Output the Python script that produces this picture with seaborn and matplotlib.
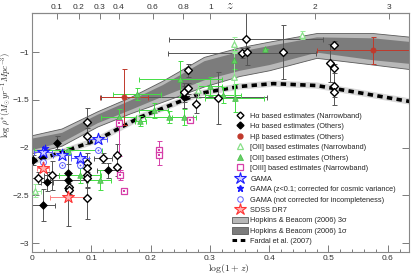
import numpy as np
import pandas as pd
import seaborn as sns
import matplotlib.pyplot as plt
from matplotlib.lines import Line2D
from matplotlib.patches import Patch
from matplotlib.ticker import MultipleLocator

# x = log(1+z), y = log rho*

# H-alpha, narrowband (open diamonds)
ha_nb_x = [0.010, 0.033, 0.063, 0.063, 0.093, 0.093, 0.093, 0.093, 0.093, 0.093, 0.093, 0.120, 0.143, 0.143,
           0.264, 0.256, 0.264, 0.276, 0.313, 0.354, 0.361, 0.363, 0.424, 0.510, 0.503, 0.510, 0.510, 0.510]
ha_nb_y = [-2.32, -2.29, -2.41, -2.44, -1.73, -1.88, -2.16, -2.21, -2.29, -2.32, -2.53, -2.11, -2.08, -2.20,
           -1.19, -1.42, -1.38, -1.54, -1.48, -1.01, -0.86, -1.00, -1.00, -0.93, -1.11, -1.17, -1.36, -1.42]
ha_nb_xerr = [0.010, 0.012, 0, 0, 0, 0, 0, 0, 0, 0, 0, 0.015, 0, 0,
              0, 0, 0, 0, 0, 0.125, 0.13, 0, 0, 0, 0, 0, 0, 0]
ha_nb_ylo = [0.06, 0.15, 0.06, 0.05, 0.14, 0.08, 0.10, 0.10, 0.12, 0.10, 0.22, 0.05, 0.12, 0.10,
             0.07, 0.10, 0.06, 0.10, 0.27, 0.05, 0.10, 0.13, 0.28, 0.05, 0.20, 0.05, 0.19, 0.05]
ha_nb_yhi = [0.06, 0.15, 0.06, 0.05, 0.14, 0.08, 0.10, 0.10, 0.12, 0.10, 0.22, 0.05, 0.12, 0.10,
             0.07, 0.10, 0.06, 0.10, 0.27, 0.05, 0.30, 0.05, 0.28, 0.05, 0.20, 0.05, 0.19, 0.05]

# H-alpha, others (filled diamonds)
ha_o_x = [0.002, 0.017, 0.019, 0.025, 0.042, 0.061, 0.061, 0.061, 0.129, 0.256]
ha_o_y = [-2.13, -2.10, -2.60, -2.36, -1.95, -2.27, -2.34, -2.42, -2.24, -1.47]
ha_o_xerr = [0, 0, 0.02, 0.01, 0, 0, 0.03, 0, 0.02, 0.14]
ha_o_yerr = [0.05, 0.05, 0.17, 0.10, 0.07, 0.10, 0.05, 0.40, 0.08, 0.12]

# H-beta, others
hb_x = [0.155, 0.575]
hb_y = [-1.47, -0.98]
hb_xerr = [0.04, 0.095]
hb_yerr = [0.29, 0.14]

# [OII], narrowband (open triangles)
oii_nb_x = [0.005, 0.280, 0.341, 0.341, 0.456]
oii_nb_y = [-2.45, -1.40, -0.92, -1.26, -0.82]
oii_nb_yerr = [0.07, 0.08, 0.08, 0.25, 0.04]
oii_nb_xerr = [0.01, 0, 0, 0, 0]

# [OII], others (filled triangles)
oii_o_x = [0.061, 0.081, 0.114, 0.146, 0.177, 0.183, 0.205, 0.231, 0.256, 0.250, 0.300, 0.322, 0.342, 0.341, 0.393]
oii_o_y = [-2.03, -2.29, -2.34, -1.68, -1.44, -1.72, -1.61, -1.68, -1.68, -1.28, -1.36, -1.45, -1.48, -1.08, -0.97]
oii_o_xerr = [0.057, 0.035, 0.02, 0.03, 0.04, 0.01, 0.025, 0.04, 0.02, 0.07, 0.02, 0.03, 0.05, 0, 0]
oii_o_yerr = [0.04, 0.08, 0.10, 0.08, 0.06, 0.05, 0.08, 0.06, 0.08, 0.19, 0.10, 0.08, 0.15, 0.10, 0]

# [OIII], narrowband (open squares)
oiii_x = [0.146, 0.267, 0.214, 0.214, 0.149, 0.155]
oiii_y = [-1.74, -1.71, -2.03, -2.08, -2.29, -2.45]
oiii_ylo = [0.35, 0.0, 0.05, 0.10, 0.05, 0.0]
oiii_yhi = [0.0, 0.0, 0.10, 0.05, 0.05, 0.0]

# GAMA
gama_x = [0.019, 0.050, 0.081, 0.112]
gama_y = [-2.05, -2.08, -2.11, -1.91]
gama_cv_x = [0.022]
gama_cv_y = [-2.00]
gama_nc_x = [0.019, 0.050, 0.081, 0.112]
gama_nc_y = [-2.15, -2.18, -2.18, -2.03]

# SDSS DR7
sdss_x = [0.019, 0.061]
sdss_y = [-2.21, -2.52]
sdss_xerr = [0.01, 0.03]

# Hopkins & Beacom (2006) bands
hob_x = [0.0, 0.05, 0.11, 0.166, 0.22, 0.29, 0.35, 0.40, 0.48, 0.575, 0.64]
hob3_hi = [-1.87, -1.80, -1.62, -1.47, -1.30, -1.05, -0.95, -0.89, -0.80, -0.80, -0.84]
hob3_lo = [-2.06, -1.98, -1.78, -1.64, -1.52, -1.36, -1.25, -1.19, -1.06, -1.13, -1.18]
hob1_hi = [-1.90, -1.84, -1.65, -1.50, -1.34, -1.09, -0.99, -0.93, -0.84, -0.85, -0.89]
hob1_lo = [-2.02, -1.94, -1.74, -1.60, -1.46, -1.29, -1.19, -1.13, -1.00, -1.08, -1.12]

# Fardal et al. (2007)
fardal_x = [0.0, 0.059, 0.11, 0.183, 0.285, 0.35, 0.407, 0.48, 0.547, 0.64]
fardal_y = [-2.15, -2.03, -1.92, -1.68, -1.43, -1.36, -1.33, -1.35, -1.42, -1.52]

# top axis redshift ticks
z_ticks = [0.1, 0.2, 0.3, 0.4, 0.6, 0.8, 1, 2, 3]
z_labels = ['0.1', '0.2', '0.3', '0.4', '0.6', '0.8', '1', '2', '3']

sns.set_style('ticks')
plt.rcParams['font.family'] = ['Liberation Sans', 'DejaVu Sans']
plt.rcParams['mathtext.fontset'] = 'cm'

fig = plt.figure(figsize=(4.11, 2.75), dpi=100)
ax = fig.add_axes([32 / 411, 1 - 252 / 275, 377 / 411, 239 / 275])

# bands
ax.fill_between(hob_x, hob3_lo, hob3_hi, color='#b8b8b8', edgecolor='#5a5a5a', lw=0.6, zorder=1)
ax.fill_between(hob_x, hob1_lo, hob1_hi, color='#7c7c7c', lw=0, zorder=1.1)

# Fardal line
fardal = pd.DataFrame({'x': fardal_x, 'y': fardal_y})
sns.lineplot(data=fardal, x='x', y='y', ax=ax, color='#d8d8d8', lw=4.5, zorder=1.5)
sns.lineplot(data=fardal, x='x', y='y', ax=ax, color='black', lw=2.6, zorder=1.6,
             linestyle=(0, (1.5, 1.2)))

eb = dict(fmt='none', capsize=1.8, elinewidth=0.7, capthick=0.7)

# error bars
ax.errorbar(ha_nb_x, ha_nb_y, xerr=ha_nb_xerr, yerr=[ha_nb_ylo, ha_nb_yhi], ecolor='#555555', zorder=2, **eb)
ax.errorbar(ha_o_x, ha_o_y, xerr=ha_o_xerr, yerr=ha_o_yerr, ecolor='#555555', zorder=2, **eb)
ax.errorbar(oii_o_x, oii_o_y, xerr=oii_o_xerr, yerr=oii_o_yerr, ecolor='#44dd44', zorder=2, **eb)
ax.errorbar(oii_nb_x, oii_nb_y, xerr=oii_nb_xerr, yerr=oii_nb_yerr, ecolor='#99ee99', zorder=2, **eb)
ax.errorbar(hb_x, hb_y, xerr=hb_xerr, yerr=hb_yerr, ecolor='#c0392b', zorder=2, **eb)
ax.errorbar(oiii_x, oiii_y, yerr=[oiii_ylo, oiii_yhi], ecolor='#d63fa8', zorder=2, **eb)
ax.errorbar(sdss_x, sdss_y, xerr=sdss_xerr, ecolor='#ff8080', zorder=2, **eb)
ax.errorbar(gama_x, gama_y, xerr=0.015, ecolor='#5a5aff', zorder=2, **eb)

# markers
def pts(x, y, **kw):
    sns.scatterplot(x=x, y=y, ax=ax, zorder=3, legend=False, **kw)

pts(oii_o_x, oii_o_y, marker='^', s=16, color='#66d066', edgecolor='#44bb44', linewidth=0.5)
pts(oii_nb_x, oii_nb_y, marker='^', s=16, color='white', edgecolor='#88e088', linewidth=0.9)
pts(ha_o_x, ha_o_y, marker='D', s=16, color='black', edgecolor='black', linewidth=0.5)
pts(ha_nb_x, ha_nb_y, marker='D', s=16, color='white', edgecolor='black', linewidth=1.0)
pts(hb_x, hb_y, marker='o', s=14, color='#c0392b', edgecolor='#c0392b', linewidth=0.5)
pts(oiii_x, oiii_y, marker='s', s=16, color='white', edgecolor='#d63fa8', linewidth=0.9)
pts(oiii_x, oiii_y, marker='s', s=2, color='#d63fa8', edgecolor='#d63fa8', linewidth=0)
pts(gama_nc_x, gama_nc_y, marker='o', s=18, color='white', edgecolor='#6060ff', linewidth=0.7)
pts(gama_nc_x, gama_nc_y, marker='o', s=2, color='#6060ff', edgecolor='#6060ff', linewidth=0)
pts(gama_x, gama_y, marker='*', s=80, color='#d0d0ff', edgecolor='#1a1aff', linewidth=0.8)
pts(gama_cv_x, gama_cv_y, marker='*', s=28, color='#1a1aff', edgecolor='#1a1aff', linewidth=0.5)
pts(sdss_x, sdss_y, marker='*', s=80, color='#ffb0b0', edgecolor='#ff3333', linewidth=0.8)

ax.set_xlim(0, 0.636)
ax.set_ylim(-3.094, -0.59)
ax.set_yticks([-3, -2.5, -2, -1.5, -1])
ax.set_yticklabels(['\u22123', '\u22122.5', '\u22122', '\u22121.5', '\u22121'])
ax.set_xticks([0, 0.1, 0.2, 0.3, 0.4, 0.5, 0.6])
ax.set_xticklabels(['0', '0.1', '0.2', '0.3', '0.4', '0.5', '0.6'])
ax.xaxis.set_minor_locator(MultipleLocator(0.02))
ax.tick_params(which='both', direction='in', top=False, right=True, labelsize=6,
               color='#666666', labelcolor='#333333', width=0.6)
ax.tick_params(which='major', length=5, pad=2)
ax.tick_params(which='minor', length=2.5)
for sp in ax.spines.values():
    sp.set_color('#888888')
    sp.set_linewidth(0.8)

# seaborn put 'x'/'y' column names on the axes; the real labels are placed in figure pixels
ax.set_xlabel('')
ax.set_ylabel('')
fig.text(229 / 411, 1 - 268.5 / 275, r'$\log(1+z)$', fontsize=7, ha='center', va='center')
fig.text(6.5 / 411, 1 - 95 / 275, r'$\log\,\rho^{*}(M_{\odot}yr^{-1}Mpc^{-3})$', fontsize=6.2,
         rotation=90, ha='center', va='center')

top = ax.secondary_xaxis('top', functions=(lambda v: 10 ** v - 1, lambda z: np.log10(1 + z)))
top.set_xticks(z_ticks)
top.set_xticklabels(z_labels)
top.tick_params(direction='in', length=4, labelsize=6, color='#666666', labelcolor='#333333', pad=1.5, width=0.6)
top.spines['top'].set_color('#888888')
fig.text(230 / 411, 1 - 6 / 275, r'$z$', fontsize=9, ha='center', va='center', zorder=10)

handles = [
    Line2D([], [], ls='none', marker='D', ms=3.5, mfc='white', mec='black', mew=1.0),
    Line2D([], [], ls='none', marker='D', ms=3.5, mfc='black', mec='black'),
    Line2D([], [], ls='none', marker='o', ms=3.5, mfc='#c0392b', mec='#c0392b'),
    Line2D([], [], ls='none', marker='^', ms=4, mfc='white', mec='#88e088', mew=0.9),
    Line2D([], [], ls='none', marker='^', ms=4, mfc='#66d066', mec='#44bb44', mew=0.5),
    Line2D([], [], ls='none', marker='s', ms=4, mfc='white', mec='#d63fa8', mew=0.9),
    Line2D([], [], ls='none', marker='*', ms=9, mfc='#d0d0ff', mec='#1a1aff', mew=0.8),
    Line2D([], [], ls='none', marker='*', ms=5, mfc='#1a1aff', mec='#1a1aff'),
    Line2D([], [], ls='none', marker='o', ms=4, mfc='white', mec='#6060ff', mew=0.7),
    Line2D([], [], ls='none', marker='*', ms=9, mfc='#ffb0b0', mec='#ff3333', mew=0.8),
    Patch(facecolor='#b8b8b8', edgecolor='#5a5a5a', lw=0.6),
    Patch(facecolor='#7c7c7c', edgecolor='#5a5a5a', lw=0.6),
    Line2D([], [], color='black', lw=2.2, ls=(0, (1.5, 1.2))),
]
labels = [
    'H\u03b1 based estimates (Narrowband)',
    'H\u03b1 based estimates (Others)',
    'H\u03b2 based estimates (Others)',
    '[OII] based estimates (Narrowband)',
    '[OII] based estimates (Others)',
    '[OIII] based estimates (Narrowband)',
    'GAMA',
    'GAMA (z<0.1; corrected for cosmic variance)',
    'GAMA (not corrected for incompleteness)',
    'SDSS DR7',
    'Hopkins & Beacom (2006) 3\u03c3',
    'Hopkins & Beacom (2006) 1\u03c3',
    'Fardal et al. (2007)',
]
fig.legend(handles, labels, loc='upper left', bbox_to_anchor=(232 / 411, 1 - 112 / 275),
           frameon=False, fontsize=5.3, handlelength=2.2, handleheight=1.0,
           handletextpad=0.3, labelspacing=0.36, borderpad=0, borderaxespad=0)

fig.savefig('out.png', dpi=100)
